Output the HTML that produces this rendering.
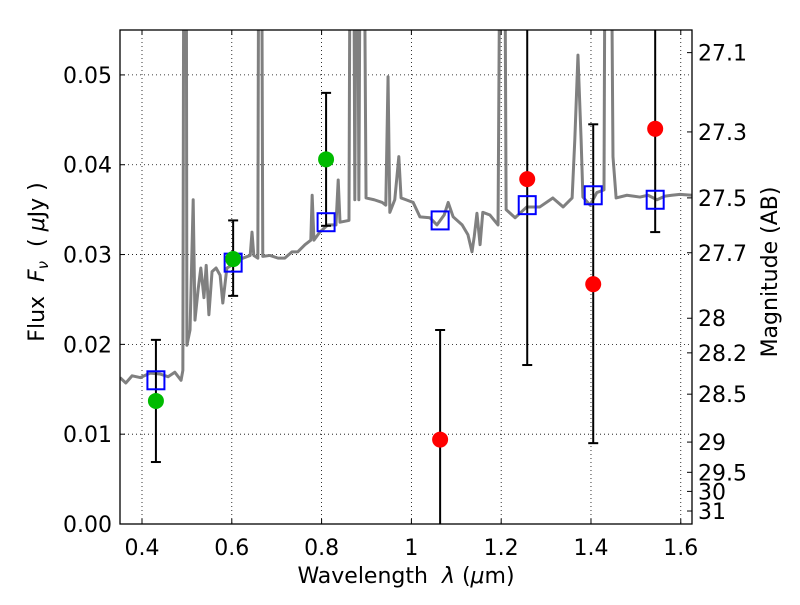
<!DOCTYPE html>
<html><head><meta charset="utf-8"><style>
body{margin:0;background:#fff}
svg text{font-family:"DejaVu Sans","Liberation Sans",sans-serif;fill:#000}
</style></head><body>
<svg id="chart" width="800" height="600" xmlns="http://www.w3.org/2000/svg"></svg>
<script>
// ---- data ----
const specLam=[0.351,0.364,0.378,0.396,0.418,0.440,0.458,0.473,0.487,0.491,0.494,0.498,0.500,0.507,0.514,0.518,0.525,0.531,0.538,0.543,0.549,0.556,0.565,0.574,0.580,0.589,0.603,0.614,0.641,0.645,0.649,0.658,0.661,0.665,0.669,0.685,0.703,0.718,0.734,0.747,0.763,0.776,0.779,0.783,0.796,0.814,0.832,0.837,0.841,0.861,0.865,0.870,0.874,0.879,0.883,0.888,0.892,0.899,0.917,0.935,0.943,0.948,0.952,0.963,0.972,0.977,0.988,1.004,1.019,1.041,1.057,1.073,1.082,1.093,1.113,1.126,1.135,1.140,1.146,1.153,1.159,1.175,1.193,1.200,1.206,1.211,1.231,1.257,1.286,1.315,1.338,1.358,1.364,1.371,1.378,1.382,1.398,1.413,1.429,1.433,1.442,1.449,1.456,1.480,1.509,1.527,1.547,1.565,1.580,1.598,1.625];
const specFlux=[0.0163,0.0157,0.0165,0.0163,0.0168,0.0167,0.0164,0.0169,0.0160,0.0171,0.09,0.09,0.0199,0.0216,0.0361,0.0227,0.0261,0.0285,0.0252,0.0288,0.0233,0.0281,0.0285,0.0277,0.0246,0.0285,0.0289,0.0294,0.0299,0.0325,0.0299,0.0296,0.09,0.09,0.0298,0.0299,0.0296,0.0296,0.0303,0.0303,0.0311,0.0316,0.0366,0.0316,0.0325,0.0333,0.0333,0.0383,0.0336,0.0338,0.09,0.09,0.0361,0.09,0.0361,0.09,0.09,0.0363,0.0361,0.0358,0.0355,0.0498,0.0347,0.0361,0.0409,0.0363,0.0361,0.0358,0.0342,0.0341,0.0333,0.0344,0.0358,0.0342,0.0333,0.0322,0.0303,0.0320,0.0346,0.0311,0.0347,0.0344,0.0333,0.09,0.09,0.0350,0.0341,0.0353,0.0353,0.0363,0.0353,0.0363,0.0428,0.0522,0.0428,0.0364,0.0355,0.0369,0.0372,0.09,0.09,0.0409,0.0363,0.0366,0.0364,0.0366,0.0361,0.0365,0.0366,0.0367,0.0366];
const bandLam=[0.431,0.603,0.810,1.064,1.258,1.405,1.543];
const modelFlux=[0.0160,0.0291,0.0336,0.0338,0.0355,0.0366,0.0361];
const obsFlux=[0.0137,0.0295,0.0406,0.0094,0.0384,0.0267,0.0440];
const obsErrLo=[0.0069,0.0254,0.0332,-0.01,0.0177,0.0090,0.0325];
const obsErrHi=[0.0205,0.0338,0.0480,0.0216,0.08,0.0445,0.08];
const obsColor=["#00bb00","#00bb00","#00bb00","#ff0000","#ff0000","#ff0000","#ff0000"];
const xTicks=[0.4,0.6,0.8,1.0,1.2,1.4,1.6];
const xTickLabels=["0.4","0.6","0.8","1","1.2","1.4","1.6"];
const yTicks=[0,0.01,0.02,0.03,0.04,0.05];
const yTickLabels=["0.00","0.01","0.02","0.03","0.04","0.05"];
const magTicks=[27.1,27.3,27.5,27.7,28,28.2,28.5,29,29.5,30,31];
const magTickLabels=["27.1","27.3","27.5","27.7","28","28.2","28.5","29","29.5","30","31"];

// ---- axes ----
const L=120,R=692,T=30,B=524,XMIN=0.351,XMAX=1.625,YMIN=0,YMAX=0.055;
const xs=v=>L+(v-XMIN)/(XMAX-XMIN)*(R-L);
const ys=v=>B-(v-YMIN)/(YMAX-YMIN)*(B-T);
const magToFlux=m=>Math.pow(10,(23.9-m)/2.5);
const svg=document.getElementById('chart');
const NS='http://www.w3.org/2000/svg';
function mk(tag,attrs,parent){const e=document.createElementNS(NS,tag);for(const k in attrs)e.setAttribute(k,attrs[k]);(parent||svg).appendChild(e);return e;}

const defs=mk('defs',{});
const cp=mk('clipPath',{id:'clip'},defs);mk('rect',{x:L,y:T,width:R-L,height:B-T},cp);

// grid
const grid=mk('g',{});


xTicks.forEach(v=>{mk('line',{x1:xs(v),x2:xs(v),y1:T,y2:B,stroke:'#000','stroke-width':0.8,'stroke-dasharray':'1,3'},grid);});
yTicks.forEach(v=>{mk('line',{x1:L,x2:R,y1:ys(v),y2:ys(v),stroke:'#000','stroke-width':0.8,'stroke-dasharray':'1,3'},grid);});

// spectrum
const spec=mk('polyline',{points:specLam.map((l,i)=>xs(l)+','+ys(specFlux[i])).join(' '),fill:'none',stroke:'#808080','stroke-width':3,'stroke-linejoin':'round','clip-path':'url(#clip)'});



// error bars & points
const gE=mk('g',{'clip-path':'url(#clip)'});
bandLam.forEach((l,i)=>{
  const x=xs(l);
  const eb=mk('line',{x1:x,x2:x,y1:ys(obsErrLo[i]),y2:ys(obsErrHi[i]),stroke:'#000','stroke-width':2},gE);
  
  
  [obsErrLo[i],obsErrHi[i]].forEach(v=>{mk('line',{x1:x-5,x2:x+5,y1:ys(v),y2:ys(v),stroke:'#000','stroke-width':2},gE);});
});
bandLam.forEach((l,i)=>{
  const sq=mk('rect',{x:xs(l)-8.5,y:ys(modelFlux[i])-9,width:17,height:18,fill:'none',stroke:'#0000ff','stroke-width':2});
  
  
});
bandLam.forEach((l,i)=>{
  const c=mk('circle',{cx:xs(l),cy:ys(obsFlux[i]),r:8,fill:obsColor[i]});
  
  
});

// frame
const fr=mk('rect',{x:L,y:T,width:R-L,height:B-T,fill:'none',stroke:'#000','stroke-width':1.3});



// ticks + labels
xTicks.forEach((v,i)=>{
  const x=xs(v);
  mk('line',{x1:x,x2:x,y1:B,y2:B-5,stroke:'#000'});
  mk('line',{x1:x,x2:x,y1:T,y2:T+5,stroke:'#000'});
  const t=mk('text',{x:x,y:B+31,'font-size':22,'text-anchor':'middle'});t.textContent=xTickLabels[i];
  
  
});
yTicks.forEach((v,i)=>{
  const y=ys(v);
  mk('line',{x1:L,x2:L+5,y1:y,y2:y,stroke:'#000'});
  const t=mk('text',{x:L-8,y:y+8,'font-size':22,'text-anchor':'end'});t.textContent=yTickLabels[i];
  
  
});
magTicks.forEach((m,i)=>{
  const y=ys(magToFlux(m));
  mk('line',{x1:R,x2:R-5,y1:y,y2:y,stroke:'#000'});
  const t=mk('text',{x:R+6,y:y+8,'font-size':22});t.textContent=magTickLabels[i];
  
  
});

// axis titles
const xt=mk('text',{x:406,y:583,'font-size':22,'text-anchor':'middle'});
xt.innerHTML='Wavelength  <tspan font-style="italic">λ</tspan> (<tspan font-style="italic">μ</tspan>m)';
xt.setAttribute('white-space','pre');


const yt=mk('text',{x:0,y:0,'font-size':22,'text-anchor':'middle',transform:'translate(44,262) rotate(-90)'});
yt.innerHTML='Flux\u00a0\u00a0<tspan font-style="italic">F</tspan><tspan font-style="italic" font-size="15" dy="4">ν</tspan><tspan dy="-4">\u00a0\u00a0(\u00a0</tspan><tspan font-style="italic">μ</tspan>Jy\u00a0)';


const rt=mk('text',{x:0,y:0,'font-size':22,'text-anchor':'middle',transform:'translate(777,272) rotate(-90)'});
rt.textContent='Magnitude (AB)';


xt.innerHTML='Wavelength\u00a0\u00a0<tspan font-style="italic">λ</tspan> (<tspan font-style="italic">μ</tspan>m)';
</script>
</body></html>
